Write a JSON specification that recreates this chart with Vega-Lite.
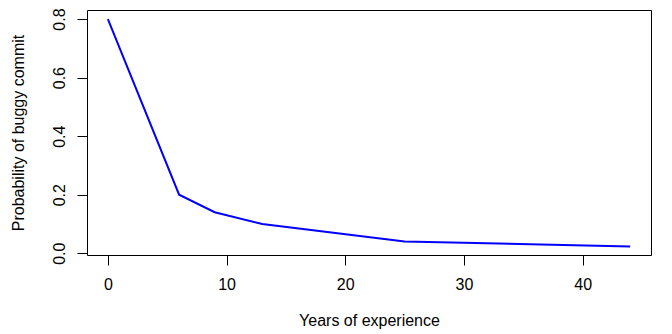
{
  "$schema": "https://vega.github.io/schema/vega-lite/v6.json",
  "width": 564,
  "height": 245,
  "autosize": {"type": "none"},
  "padding": {"left": 87, "top": 10, "right": 21, "bottom": 79},
  "background": "white",
  "config": {
    "view": {"stroke": "#000000", "strokeWidth": 1},
    "axis": {
      "labelFont": "Liberation Sans",
      "titleFont": "Liberation Sans",
      "labelFontSize": 16,
      "titleFontSize": 16,
      "titleFontWeight": "normal",
      "labelColor": "#000000",
      "titleColor": "#000000",
      "tickColor": "#000000",
      "tickSize": 10,
      "domain": false,
      "grid": false
    }
  },
  "data": {
    "values": [
      {"years": 0, "prob": 0.8},
      {"years": 6, "prob": 0.2},
      {"years": 9, "prob": 0.14},
      {"years": 13, "prob": 0.1},
      {"years": 25, "prob": 0.04},
      {"years": 44, "prob": 0.023}
    ]
  },
  "mark": {"type": "line", "color": "#0000FF", "strokeWidth": 2},
  "encoding": {
    "x": {
      "field": "years",
      "type": "quantitative",
      "scale": {"domain": [-1.76, 45.76], "nice": false, "zero": false},
      "axis": {
        "title": "Years of experience",
        "values": [0, 10, 20, 30, 40],
        "labelPadding": 11,
        "titlePadding": 20,
        "labelFlush": false
      }
    },
    "y": {
      "field": "prob",
      "type": "quantitative",
      "scale": {"domain": [-0.006, 0.831], "nice": false, "zero": false},
      "axis": {
        "title": "Probability of buggy commit",
        "values": [0, 0.2, 0.4, 0.6, 0.8],
        "format": ".1f",
        "labelAngle": -90,
        "labelAlign": "center",
        "labelBaseline": "bottom",
        "labelPadding": 10,
        "titlePadding": 25,
        "labelFlush": false
      }
    }
  }
}
